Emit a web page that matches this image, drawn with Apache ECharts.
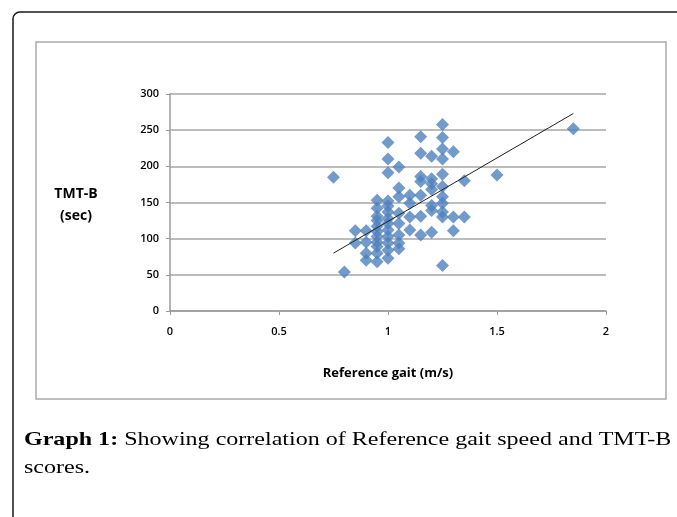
<!DOCTYPE html>
<html>
<head>
<meta charset="utf-8">
<script src="https://cdn.jsdelivr.net/npm/echarts@6/dist/echarts.min.js"></script>
<style>
  html, body { margin: 0; padding: 0; background: #fff; }
  #container { width: 677px; height: 517px; }
</style>
</head>
<body>
<div id="container"></div>
<script>
// reference gait speed (m/s) and TMT-B time (sec)
var gaitSpeed = [
  0.75,
  0.8,
  0.85, 0.85,
  0.9, 0.9, 0.9, 0.9,
  0.95, 0.95, 0.95, 0.95, 0.95, 0.95, 0.95, 0.95, 0.95, 0.95, 0.95,
  1.0, 1.0, 1.0, 1.0, 1.0, 1.0, 1.0, 1.0, 1.0, 1.0, 1.0, 1.0, 1.0,
  1.05, 1.05, 1.05, 1.05, 1.05, 1.05, 1.05, 1.05,
  1.1, 1.1, 1.1, 1.1,
  1.15, 1.15, 1.15, 1.15, 1.15, 1.15, 1.15,
  1.2, 1.2, 1.2, 1.2, 1.2, 1.2, 1.2,
  1.25, 1.25, 1.25, 1.25, 1.25, 1.25, 1.25, 1.25, 1.25, 1.25, 1.25,
  1.3, 1.3, 1.3,
  1.35, 1.35,
  1.5,
  1.85
];
var tmtB = [
  185,
  54,
  111, 94,
  111, 95, 80, 70,
  153, 142, 131, 125, 117, 110, 103, 95, 89, 80, 68,
  233, 210, 191, 152, 145, 137, 128, 121, 112, 103, 94, 84, 73,
  199, 170, 158, 135, 121, 105, 94, 86,
  160, 149, 130, 112,
  241, 218, 186, 179, 160, 131, 105,
  214, 183, 176, 168, 146, 139, 109,
  258, 240, 224, 210, 189, 172, 158, 149, 137, 130, 63,
  220, 130, 111,
  180, 130,
  188,
  252
];
// linear trend line end points
var trendX = [0.75, 1.85];
var trendY = [80, 273];

var xTicks = ['0', '0.5', '1', '1.5', '2'];

var points = [];
for (var i = 0; i < gaitSpeed.length; i++) {
  points.push([gaitSpeed[i], tmtB[i]]);
}
var trend = [];
for (var j = 0; j < trendX.length; j++) {
  trend.push([trendX[j], trendY[j]]);
}

var dom = document.getElementById('container');
var myChart = echarts.init(dom, null, { renderer: 'canvas' });

var labelFont = { color: '#000', fontSize: 11, fontFamily: 'Open Sans', fontWeight: 600 };

var option = {
  backgroundColor: '#fff',
  animation: false,
  grid: { left: 170, top: 94, right: 71, bottom: 206, containLabel: false },
  xAxis: {
    type: 'value',
    min: 0, max: 2, interval: 0.5,
    name: 'Reference gait (m/s)',
    nameLocation: 'middle',
    nameGap: 56,
    nameTextStyle: { color: '#000', fontSize: 13, fontFamily: 'Open Sans', fontWeight: 'bold' },
    axisLine: { show: true, lineStyle: { color: '#9a9a9a', width: 1.5 } },
    axisTick: { show: true, length: 4, lineStyle: { color: '#9a9a9a' } },
    axisLabel: Object.assign({ margin: 15, formatter: function (v) { return xTicks[Math.round(v / 0.5)]; } }, labelFont),
    splitLine: { show: false }
  },
  yAxis: {
    type: 'value',
    min: 0, max: 300, interval: 50,
    axisLine: { show: true, lineStyle: { color: '#9a9a9a', width: 1.5 } },
    axisTick: { show: true, length: 4, lineStyle: { color: '#9a9a9a' } },
    axisLabel: Object.assign({ margin: 11 }, labelFont),
    splitLine: { show: true, lineStyle: { color: '#a6a6a6', width: 1.5 } }
  },
  graphic: [
    {
      type: 'rect',
      shape: { x: 13, y: 12, width: 720, height: 600, r: 7 },
      style: { fill: 'none', stroke: '#1a1a1a', lineWidth: 1.5 },
      silent: true
    },
    {
      type: 'rect',
      shape: { x: 36, y: 42, width: 630, height: 357 },
      style: { fill: 'none', stroke: '#aaaaaa', lineWidth: 1.5 },
      silent: true
    },
    {
      type: 'text',
      x: 76, y: 187,
      style: {
        text: 'TMT-B',
        fill: '#000',
        font: 'bold 14px "Open Sans"',
        align: 'center'
      }
    },
    {
      type: 'text',
      x: 76, y: 209,
      style: {
        text: '(sec)',
        fill: '#000',
        font: 'bold 14px "Open Sans"',
        align: 'center'
      }
    },
    {
      type: 'text',
      x: 24, y: 431,
      scaleX: 1.265,
      style: {
        text: '{b|Graph 1:} Showing correlation of Reference gait speed and TMT-B',
        fill: '#000',
        font: '19px "Liberation Serif"',
        rich: {
          b: { font: 'bold 19px "Liberation Serif"', fill: '#000' }
        }
      }
    },
    {
      type: 'text',
      x: 24, y: 459,
      scaleX: 1.265,
      style: {
        text: 'scores.',
        fill: '#000',
        font: '19px "Liberation Serif"'
      }
    }
  ],
  series: [
    {
      type: 'scatter',
      data: points,
      symbol: 'diamond',
      symbolSize: [13, 13],
      itemStyle: { color: '#4F81BD' },
      z: 3
    },
    {
      type: 'line',
      data: trend,
      symbol: 'none',
      lineStyle: { color: '#222', width: 1 },
      z: 4
    }
  ]
};

myChart.setOption(option);
window.addEventListener('resize', myChart.resize);
</script>
</body>
</html>
